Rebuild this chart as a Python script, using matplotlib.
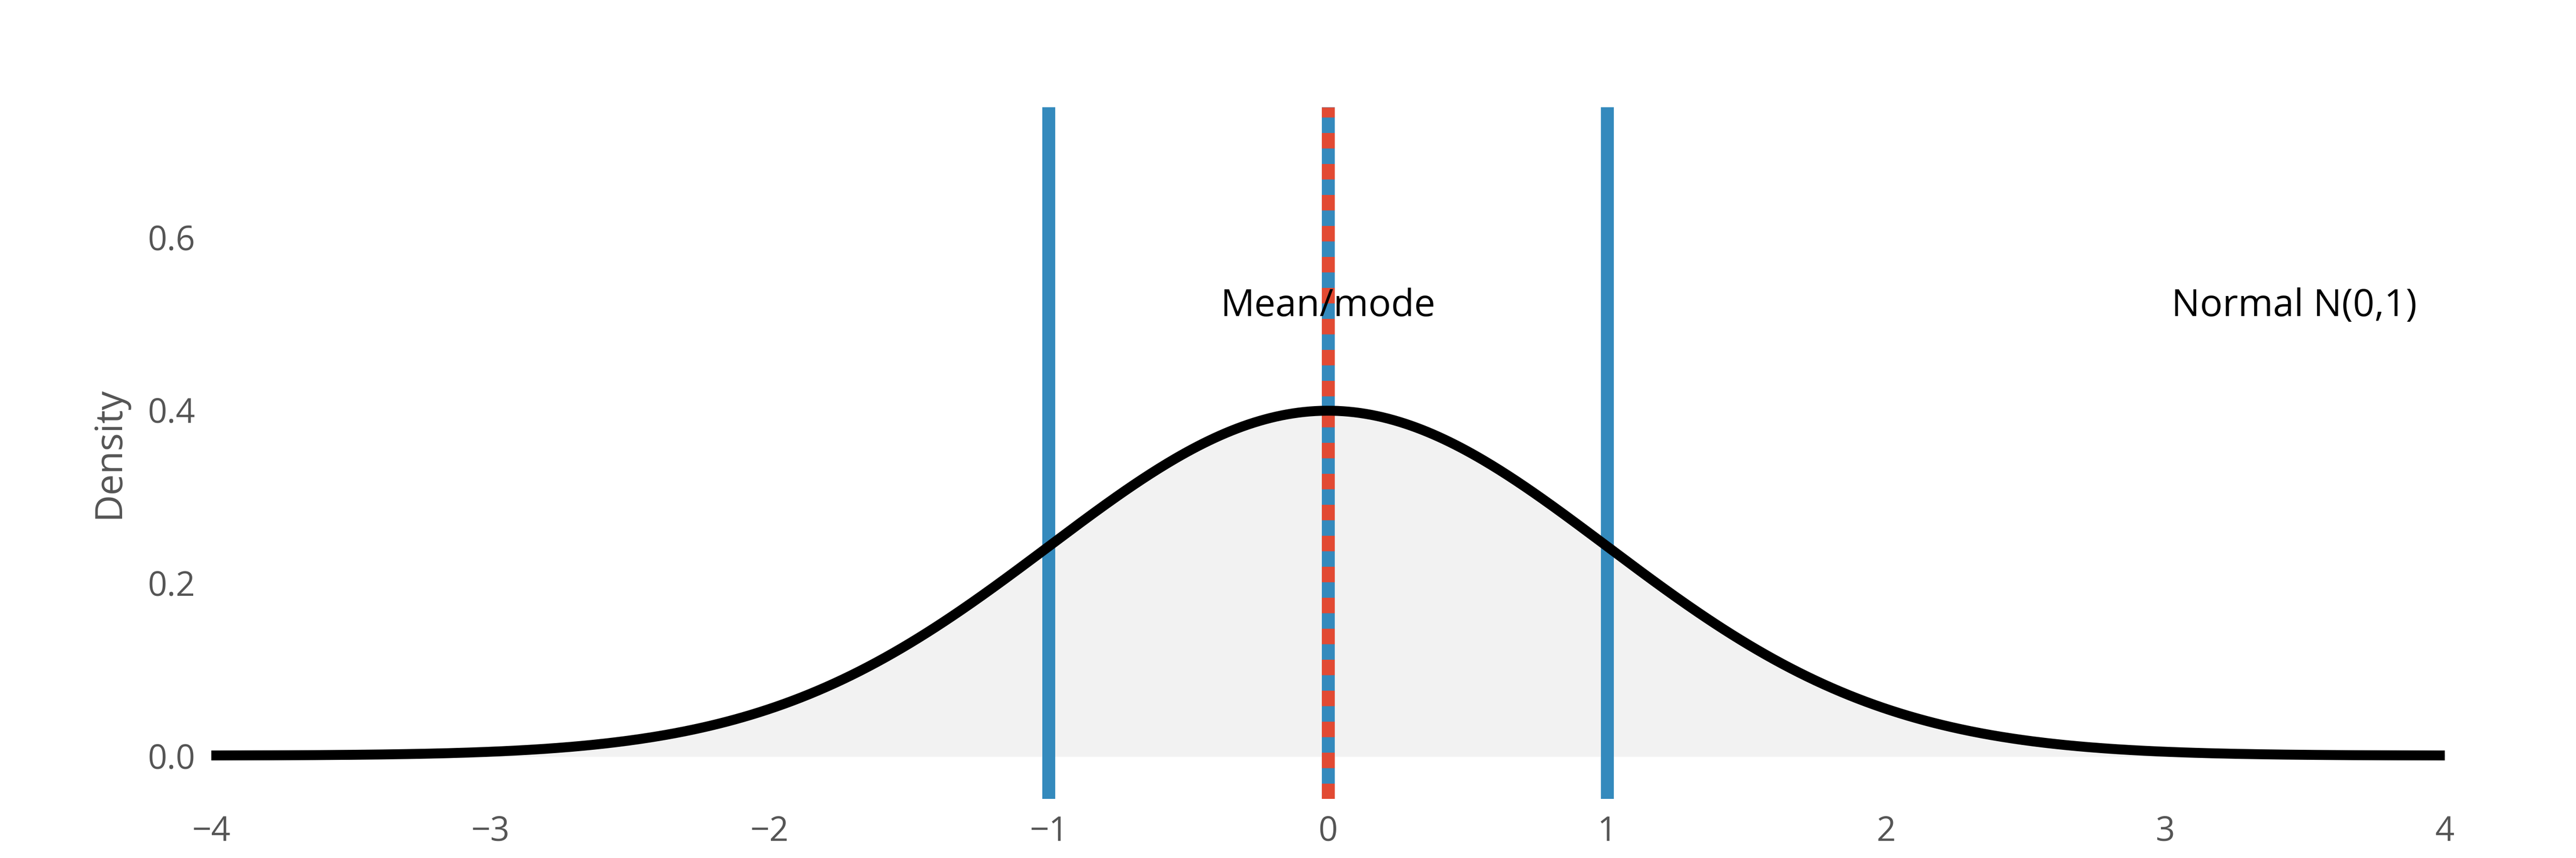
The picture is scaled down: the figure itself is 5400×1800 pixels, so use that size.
import numpy as np
import matplotlib
matplotlib.use("Agg")
from matplotlib import pyplot as plt

# N(0,1) parameters and marked positions
mu = 0.0
sigma = 1.0
sd_lines = [-1, 1]
x_ticks = [-4, -3, -2, -1, 0, 1, 2, 3, 4]
y_ticks = [0.0, 0.2, 0.4, 0.6]

blue = "#348ABD"
red = "#E24A33"
grey = "#555555"

plt.rcParams['font.family'] = ['Open Sans', 'DejaVu Sans']

x = np.linspace(-4, 4, 800)
pdf = np.exp(-0.5 * ((x - mu) / sigma) ** 2) / (sigma * np.sqrt(2 * np.pi))

fig = plt.figure(figsize=(18, 6), dpi=300)
ax = fig.add_axes([0.082, 0.069, 0.867, 0.806])

ax.fill_between(x, pdf, color="#f2f2f2", zorder=1)
ax.plot(x, pdf, color="black", lw=5, zorder=4)
for v in sd_lines:
    ax.axvline(v, color=blue, lw=6.5, zorder=3)
ax.axvline(mu, color=blue, lw=6.5, zorder=3)
ax.axvline(mu, color=red, lw=6.5, dashes=(1.2, 1.2), zorder=3)

ax.text(mu, 0.52, "Mean/mode", ha="center", va="center", fontsize=19, color="black", zorder=5)
ax.text(3.9, 0.52, "Normal N(0,1)", ha="right", va="center", fontsize=19, color="black")

ax.set_xlim(-4, 4)
ax.set_ylim(-0.05, 0.75)
ax.set_xticks(x_ticks)
ax.set_xticklabels(["\u2212%d" % -t if t < 0 else str(t) for t in x_ticks])
ax.set_yticks(y_ticks)
ax.set_yticklabels(["%.1f" % t for t in y_ticks])
ax.tick_params(length=0, labelsize=17, labelcolor=grey, pad=8)
ax.set_ylabel("Density", fontsize=19, color=grey, labelpad=10)
for s in ax.spines.values():
    s.set_visible(False)
ax.set_facecolor("white")

fig.savefig("out.png")
